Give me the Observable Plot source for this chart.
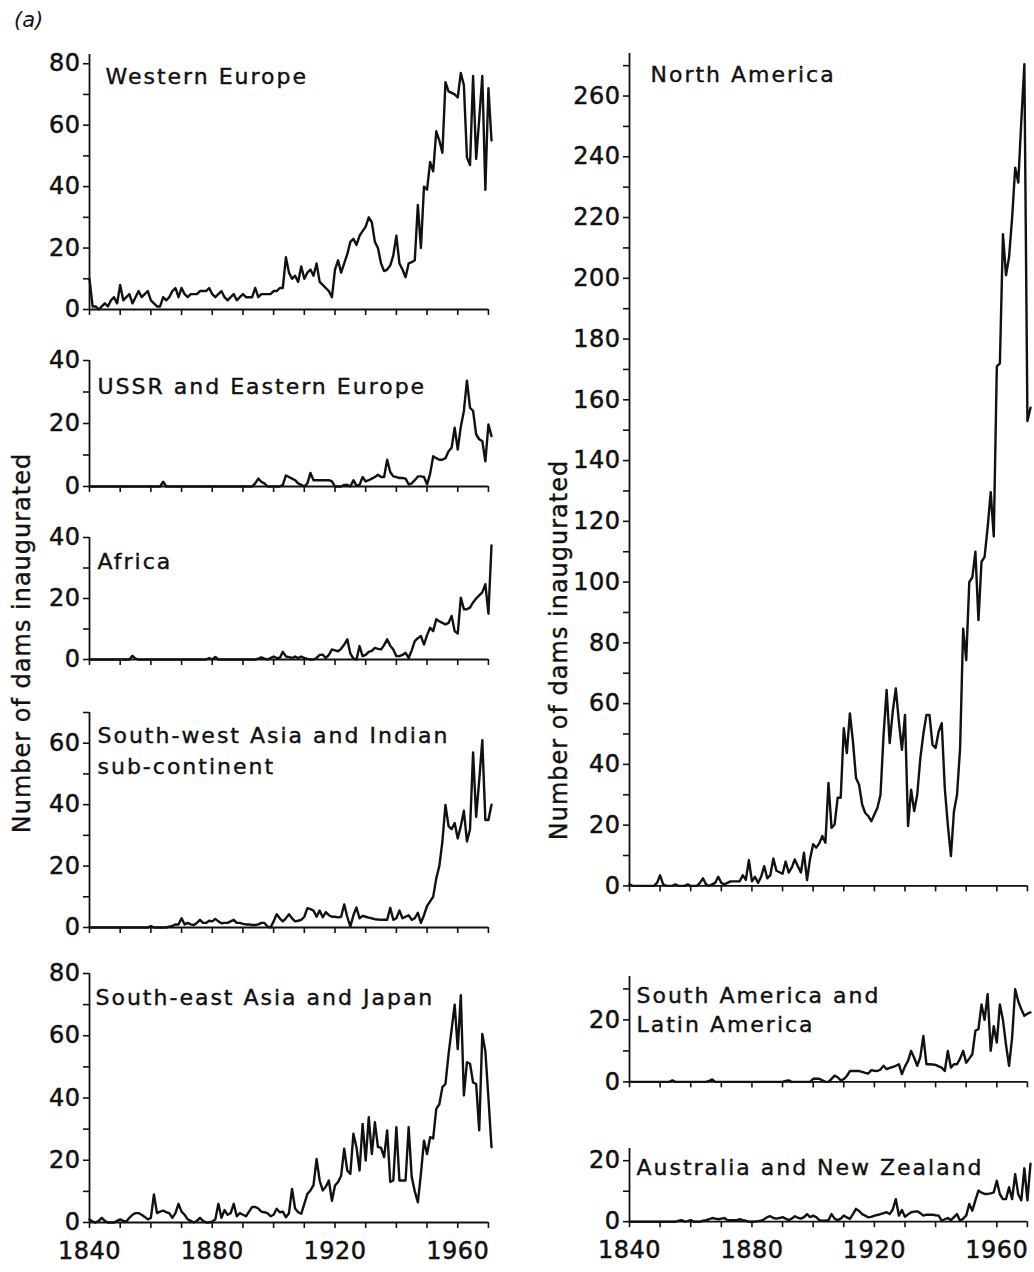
<!DOCTYPE html>
<html><head><meta charset="utf-8">
<script src="https://cdn.jsdelivr.net/npm/d3@7"></script>
<script src="https://cdn.jsdelivr.net/npm/@observablehq/plot@0.6"></script>
<style>
body{margin:0;background:#fff;}
#chart{position:relative;width:1034px;height:1272px;background:#fff;font-family:"DejaVu Sans",sans-serif;color:#111;overflow:hidden}
#chart svg{position:absolute;}
.ytitle{position:absolute;white-space:nowrap;font-size:24px;letter-spacing:1px;transform:translate(-50%,-50%) rotate(-90deg);z-index:5;color:#111;-webkit-text-stroke:0.4px #111}
.tag{position:absolute;left:14px;top:8px;font-size:21px;font-style:italic;color:#111}
</style></head><body><div id="chart"></div>
<script>
// ---------- data (annual counts, first value = 1840) ----------
const startYear = 1840;
const xTicks = [1840,1850,1860,1870,1880,1890,1900,1910,1920,1930,1940,1950,1960,1970];
const xTickLabels = [1840,1880,1920,1960];
const yAxisTitle = "Number of dams inaugurated";

const westernEurope = [
 10,1,1,0,1,2,1,3,4,2,
 8,3,4,5,2,4,6,4,5,6,
 3,2,1,1,4,3,4,6,7,4,
 7,5,4,5,5,5,6,6,6,7,
 5,4,5,6,4,3,4,5,3,4,
 5,4,4,4,7,4,5,5,5,5,
 6,6,7,7,17,12,10,11,9,14,
 10,12,13,11,15,9,8,7,6,4,
 13,16,12,15,18,22,23,21,24,25.5,
 27,30,28.4,22,20,15,12.5,13,14.3,17.6,
 24,15,13,10.5,15,15.4,16,34,20,40,
 39,48,45,58,55,51,74,71,70.5,70,
 69,77,73,49.5,47,76,49,62,76,39,
 72,55
];
const ussrEasternEurope = [
 0,0,0,0,0,0,0,0,0,0,
 0,0,0,0,0,0,0,0,0,0,
 0,0,0,0,1.5,0,0,0,0,0,
 0,0,0,0,0,0,0,0,0,0,
 0,0,0,0,0,0,0,0,0,0,
 0,0,0,0,1,2.5,1.5,1,0,0,
 0,0,0,0.5,3.5,3,2.5,2,1,0.5,
 0,1,4.3,2,2,2,2,2,2,1.6,
 0,0,0,0.5,0.5,0,2,0.3,0.5,3,
 1.6,2,2.5,3,3.7,3,3,8.5,4.6,3.2,
 3,2.7,2.7,2.5,0.7,1,2,3.2,3.2,3,
 0.7,4,9.6,9,8.5,8.5,9,11.2,12.3,18.7,
 11.7,19,24,33.6,25,24,16.5,15,14.4,8,
 19.7,16
];
const africa = [
 0,0,0,0,0,0,0,0,0,0,
 0,0,0,0,1.2,0.3,0,0,0,0,
 0,0,0,0,0,0,0,0,0,0,
 0,0,0,0,0,0,0,0,0,0.5,
 0,0.8,0,0,0,0,0,0,0,0,
 0,0,0,0,0,0.3,0.7,0.3,0,0.5,
 1,0.5,0.5,2.5,1,0.8,0.5,1,0.5,1,
 0.5,0.2,0,0,0.5,1.5,1.6,0.5,1.5,3.3,
 3,2.7,3.5,4.9,6.6,2,0.3,0,4.4,1.1,
 1.5,2.5,2.8,3.8,3.5,3.3,4.7,6.6,4.5,3.3,
 1.1,1.1,1.5,2.2,0.5,3,6,7,7.7,4.9,
 8,10.4,9.3,13.2,12.5,12,11.5,12,14.3,9.3,
 8.5,20.3,16.5,16.5,17,18.7,20,21,22,24.7,
 15,37.4
];
const southWestAsiaIndia = [
 0,0,0,0,0,0,0,0,0,0,
 0,0,0,0,0,0,0,0,0,0,
 0.5,0,0,0,0,0,0.3,0.5,1,1,
 3,1,1.5,1,0.8,1.5,2.5,1.5,1.5,2.2,
 2,2.8,2,1.4,1.5,1.5,2,2.5,1.5,1.5,
 1.2,1,1,0.8,0.8,1,1.5,1.5,0.3,0,
 2,4.3,3,2,3,4.3,3,2,2.2,2.5,
 3.5,6.3,6,5.5,3.5,5.5,3.3,5,4,3.5,
 3.5,3.3,3.5,7.5,3.5,0.3,4,6.5,3,3.8,
 3.5,3.2,3,2.7,2.6,2.5,2.5,2.5,6.4,2.5,
 3,5.5,3,3.5,4,2.5,3,4.8,1.5,4,
 7,8.5,10,16,20,28,39.9,33,32,34,
 29,33,38,28,32,57,36,48,61,35,
 35,40
];
const southEastAsiaJapan = [
 1,0.3,0,0.5,1.5,0.5,0,0,0,0.5,
 1,0.5,0.3,1.5,2.5,3,3,2.5,1.8,1,
 1.5,9,3,3.5,3.8,3.3,3,1.5,3,6,
 3.5,2.5,1,0.5,0,0.5,1.5,0.5,0,0,
 0.3,1,6,1.5,4,2.5,3,6,2,3,
 2.5,2,3.5,5,5,4.5,3.5,3.3,3,2,
 2.5,4.4,3.3,3.5,1.7,3,10.8,4.5,3.3,2.8,
 6,9.2,10.3,12,20.4,13.5,10.3,11.5,13.5,7,
 11.9,13,15,23.7,16.7,15.6,28.5,24.2,16.7,31.7,
 19.9,33.8,22,32.2,24.2,24,21,29.6,13,13.5,
 30.6,13.5,13.5,13.5,30.6,14.6,10,6.5,15.6,26.3,
 22,27.4,27,36.5,38,43.5,44.5,54,62,70,
 55.7,73,40.8,51.5,51,45,44.5,29.6,60.6,55,
 40,24.2
];
const northAmerica = [
 0.5,0,0,0,0,0,0,0,0,1,
 3.5,0.5,0,0,0,0.5,0,0,0,0.5,
 0,0,0,1,2.5,0.5,0,0.5,1,3,
 1,0.5,1,1.5,1.5,1.5,1.5,3.5,2,8.5,
 1.5,3,1,3,6.5,2.5,3.5,9,5,4.5,
 4,8,4.4,6,8.7,6.5,4.4,10.9,1.9,9,
 13.7,12.6,14,16.4,14.2,33.9,19.1,20.2,29,29,
 51.9,43.7,56.8,47.5,35.5,33.3,26.8,24,23,21.3,
 23.5,25.7,30,49.7,64.5,47,57.4,65,54.1,44.8,
 56.3,19.7,31.7,24.6,30,42,50,56.3,56.3,46.4,
 45.4,50.8,53.6,32.2,20,9.8,24.6,30,45.4,84.7,
 74.3,100,101.6,110,87.5,106.7,108.3,118,129.6,115,
 171,172,214.5,201,207,220,236.4,231.5,251.8,270.5,
 153,157.4
];
const southLatinAmerica = [
 0,0,0,0,0,0,0,0,0,0,
 0,0,0,0,0.5,0,0,0,0,0,
 0,0,0,0,0,0,0.3,0.8,0,0,
 0,0,0,0,0,0,0,0,0,0,
 0,0,0,0,0,0,0,0,0,0,
 0,0.3,0.5,0,0,0,0,0,0,0,
 1,1,1,0.5,0,0,1,2,1.5,0.5,
 0.9,1.9,3.5,3.5,3.5,3.5,3.2,2.9,2.7,3.8,
 3.6,3.5,4,5.2,4.1,4.5,4.8,5.2,5.7,2.5,
 5,6.8,10,7.8,5.2,8,14.8,5.7,5.7,5.6,
 5.5,5,4.6,3.5,10,4.6,5.7,5.7,7.5,10,
 6.2,7.5,8.9,16.5,17,25,20,28.3,10,18,
 12.7,25,20,12,5.2,14.3,29.9,26,23.4,21.3,
 22,22.4
];
const australiaNZ = [
 0,0,0,0,0,0,0,0,0,0,
 0,0,0,0,0,0,0.3,0.5,0,0.2,
 0.5,0,0,0,0.3,0.5,0.8,1.2,1,0.8,
 1,1.2,0.5,0.5,0.5,0.5,0.8,0.5,0.3,0,
 0,0,0.2,0.3,0.8,1.5,1.8,1.2,1,1.2,
 1.5,1,0.5,1,1.8,1.3,1,1.5,2.5,1.5,
 2,1.5,0.5,0.3,0.3,0.5,2.5,1,0.5,1,
 2,1.4,0.9,2.5,4.2,3.5,2.5,2,1.4,1.6,
 2,2.2,2.5,2.8,3.1,2.5,4,7.4,2,3.8,
 1.6,2.4,3.1,3.3,3.4,2.8,2,2.3,2.3,2.3,
 2.1,2,0.3,0.8,1.2,0.5,1.5,2.5,0.3,1,
 2,5.8,3.6,7,10.2,9.5,9.1,9.1,9.3,9.6,
 13.4,9,7.4,7.4,11.3,7.4,15.6,9,7,17.5,
 7,19
];

const titles = {
  we: "Western Europe",
  ussr: "USSR and Eastern Europe",
  af: "Africa",
  swa: "South-west Asia and Indian\nsub-continent",
  sea: "South-east Asia and Japan",
  na: "North America",
  sa: "South America and\nLatin America",
  au: "Australia and New Zealand"
};

// ---------- layout ----------
const chart = document.getElementById("chart");
const FONT = '"DejaVu Sans", "Liberation Sans", sans-serif';

function panel(o) {
  const data = o.values.map((v, i) => ({year: startYear + i, value: v}));
  const mt = 10, mb = o.showX ? 50 : 14;
  const h = (o.y0 - o.plotTop) + mt + mb;
  const tickVals = d3.range(0, o.ymax + 0.001, 10);
  const svg = Plot.plot({
    width: o.width, height: h,
    marginLeft: o.ml, marginRight: o.mr, marginTop: mt, marginBottom: mb,
    style: {fontFamily: FONT, fontSize: "24px", color: "#111", background: "transparent", overflow: "visible"},
    x: {domain: [1840, 1971], ticks: xTicks, tickSize: 6, tickPadding: 13, label: null,
        tickFormat: d => (o.showX && xTickLabels.includes(d)) ? String(d) : ""},
    y: {domain: [0, o.ymax], ticks: tickVals, tickSize: 6, tickPadding: 3, label: null,
        tickFormat: d => (d % 20 === 0) ? String(d) : ""},
    marks: [
      Plot.ruleX([1840], {strokeWidth: 1.8, stroke: "#111"}),
      Plot.ruleY([0], {x1: 1840, x2: 1970, strokeWidth: 1.8, stroke: "#111"}),
      Plot.line(data, {x: "year", y: "value", stroke: "#111", strokeWidth: 2.4, strokeLinejoin: "round"}),
      Plot.text([o.title], {text: d => d, frameAnchor: "top-left", dx: o.tdx, dy: o.tdy, fontSize: 22,
        textAnchor: "start", lineAnchor: "top", lineHeight: o.lh || 1.35, fill: "#111", fontFamily: FONT})
    ]
  });
  svg.style.left = o.left + "px";
  svg.style.top = (o.plotTop - mt) + "px";
  const s = d3.select(svg);
  s.selectAll('g[aria-label="text"] text').attr("letter-spacing", "2px")
    .attr("stroke", "#111").attr("stroke-width", 0.4);
  s.selectAll('g[aria-label*="axis"] line, g[aria-label*="axis"] path').attr("stroke-width", 1.6);
  s.selectAll('g[aria-label*="axis"] text').attr("letter-spacing", "0.5px")
    .attr("stroke", "#111").attr("stroke-width", 0.5);
  chart.appendChild(svg);
}

const L = {left: 0, width: 500, ml: 89, mr: 9};
const R = {left: 540, width: 494, ml: 89, mr: 4};

panel({...L, values: westernEurope, title: titles.we, ymax: 83, plotTop: 54, y0: 309, tdx: 16, tdy: 8});
panel({...L, values: ussrEasternEurope, title: titles.ussr, ymax: 40, plotTop: 360, y0: 486, tdx: 8, tdy: 12});
panel({...L, values: africa, title: titles.af, ymax: 40, plotTop: 537, y0: 659, tdx: 8, tdy: 10});
panel({...L, values: southWestAsiaIndia, title: titles.swa, ymax: 70, plotTop: 712, y0: 927, tdx: 8, tdy: 8, lh: 1.41});
panel({...L, values: southEastAsiaJapan, title: titles.sea, ymax: 80, plotTop: 973, y0: 1222, tdx: 6, tdy: 10, showX: true});
panel({...R, values: northAmerica, title: titles.na, ymax: 274, plotTop: 52.6, y0: 885, tdx: 21, tdy: 7});
panel({...R, values: southLatinAmerica, title: titles.sa, ymax: 34, plotTop: 975.6, y0: 1081, tdx: 7, tdy: 6, lh: 1.32});
panel({...R, values: australiaNZ, title: titles.au, ymax: 24, plotTop: 1147.8, y0: 1221, tdx: 7, tdy: 5.5, showX: true});

function ytitle(cx, cy) {
  const d = document.createElement("div");
  d.className = "ytitle";
  d.textContent = yAxisTitle;
  d.style.left = cx + "px"; d.style.top = cy + "px";
  chart.appendChild(d);
}
ytitle(22, 643);
ytitle(559, 650);

const tag = document.createElement("div");
tag.className = "tag"; tag.textContent = "(a)";
chart.appendChild(tag);
</script></body></html>
